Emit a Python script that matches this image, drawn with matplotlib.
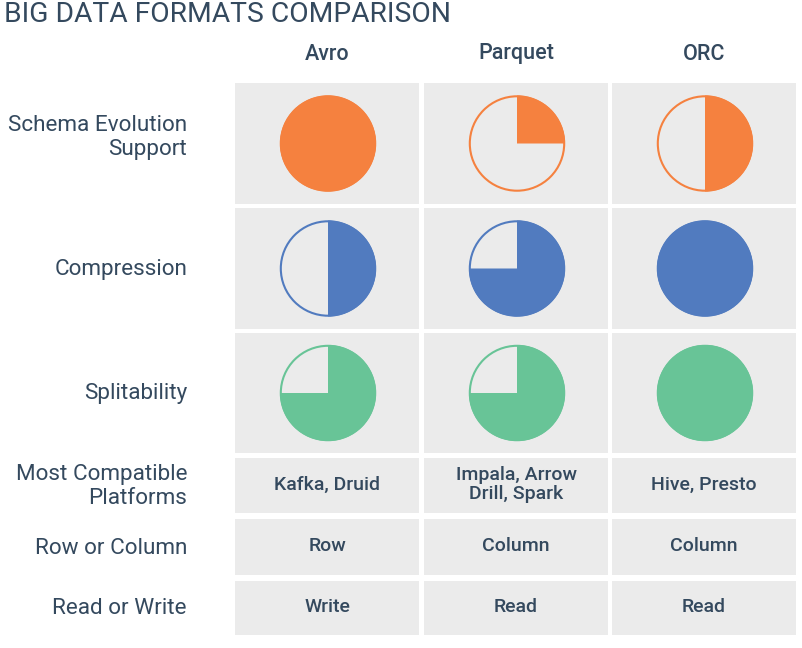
import matplotlib
matplotlib.use("Agg")
import matplotlib.pyplot as plt
from matplotlib.patches import Rectangle, Circle

# ----- Data -----
formats = ["Avro", "Parquet", "ORC"]
pie_rows = ["Schema Evolution\nSupport", "Compression", "Splitability"]
pie_colors = ["#F5813F", "#517BBF", "#68C497"]
# share of each circle that is filled
pie_scores = [
    [1.00, 0.25, 0.50],   # schema evolution
    [0.50, 0.75, 1.00],   # compression
    [0.75, 0.75, 1.00],   # splitability
]
text_rows = ["Most Compatible\nPlatforms", "Row or Column", "Read or Write"]
text_cells = [
    ["Kafka, Druid", "Impala, Arrow\nDrill, Spark", "Hive, Presto"],
    ["Row", "Column", "Column"],
    ["Write", "Read", "Read"],
]

# ----- Layout (pixel units, y measured from top) -----
W, H = 802, 648
col_x = [(235, 419), (424, 608), (612, 796)]
row_y = [(83, 204), (208, 329), (333, 453), (458, 513), (519, 575), (581, 635)]
TXT = "#34495E"
CELL = "#EBEBEB"
R = 48

plt.rcParams["font.family"] = ["Roboto", "DejaVu Sans"]

fig = plt.figure(figsize=(W / 100, H / 100), dpi=100)
ax = fig.add_axes([0, 0, 1, 1])
ax.set_xlim(0, W)
ax.set_ylim(0, H)
ax.axis("off")


def fy(y):
    return H - y


ax.text(4, fy(15), "BIG DATA FORMATS COMPARISON", fontsize=20.3, color=TXT,
        ha="left", va="center")

for j, name in enumerate(formats):
    cx = sum(col_x[j]) / 2
    ax.text(cx, fy(54), name, fontsize=15.5, color=TXT, ha="center",
            va="center", fontweight="medium")

all_rows = pie_rows + text_rows
for i, label in enumerate(all_rows):
    y0, y1 = row_y[i]
    cy = (y0 + y1) / 2
    off = -6 if "\n" in label and i < 3 else 1
    ax.text(187, fy(cy + off), label, fontsize=16.2, color=TXT, ha="right",
            va="center", multialignment="right", linespacing=1.2)
    for j in range(3):
        x0, x1 = col_x[j]
        ax.add_patch(Rectangle((x0, fy(y1)), x1 - x0, y1 - y0,
                               facecolor=CELL, edgecolor="none", zorder=0))

# pies
for i in range(3):
    y0, y1 = row_y[i]
    cy = fy((y0 + y1) / 2)
    for j in range(3):
        cx = sum(col_x[j]) / 2 + 1
        f = pie_scores[i][j]
        c = pie_colors[i]
        ax.pie([f, 1 - f], colors=[c, "none"], startangle=90,
               counterclock=False, center=(cx, cy), radius=R, frame=True,
               wedgeprops=dict(linewidth=0))
        ax.add_patch(Circle((cx, cy), R - 0.8, fill=False, edgecolor=c,
                            linewidth=1.5, zorder=3))

# text cells
for k in range(3):
    y0, y1 = row_y[3 + k]
    cy = (y0 + y1) / 2
    for j in range(3):
        cx = sum(col_x[j]) / 2
        ax.text(cx, fy(cy - 1), text_cells[k][j], fontsize=14, color=TXT,
                ha="center", va="center", fontweight="medium",
                linespacing=1.1)

ax.set_xlim(0, W)
ax.set_ylim(0, H)
ax.set_aspect("auto")
fig.savefig("out.png", dpi=100, facecolor="white")
